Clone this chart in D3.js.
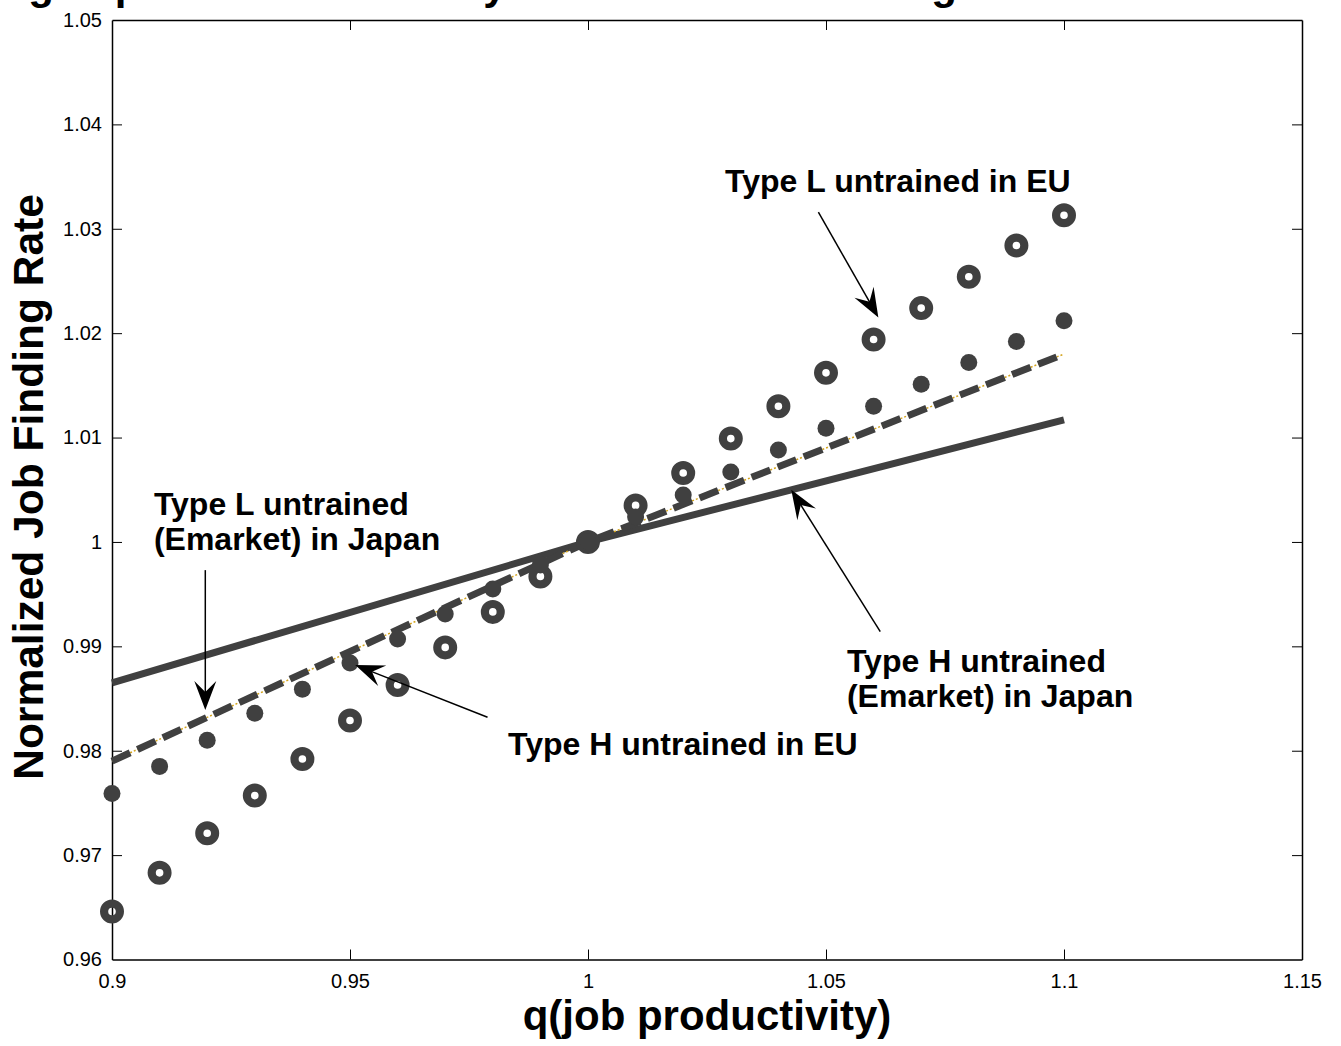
<!DOCTYPE html>
<html>
<head>
<meta charset="utf-8">
<script src="https://cdn.jsdelivr.net/npm/d3@7"></script>
<style>
  html, body { margin: 0; padding: 0; background: #fff; }
  svg { display: block; font-family: "Liberation Sans", Arial, Helvetica, sans-serif; }
</style>
</head>
<body>
<svg class="myChart" width="1341" height="1046"></svg>
<script>
// q grid (job productivity)
const qGrid = [0.90, 0.91, 0.92, 0.93, 0.94, 0.95, 0.96, 0.97, 0.98, 0.99, 1.00,
               1.01, 1.02, 1.03, 1.04, 1.05, 1.06, 1.07, 1.08, 1.09, 1.10];

// Type L untrained in EU (open rings)
const typeL_EU = [0.9646, 0.9683, 0.9721, 0.9757, 0.9792, 0.9829, 0.9863, 0.9899, 0.9933, 0.9967, 1.0000,
                  1.0035, 1.0066, 1.0099, 1.0130, 1.0162, 1.0194, 1.0224, 1.0254, 1.0284, 1.0313];

// Type H untrained in EU (filled dots)
const typeH_EU = [0.9759, 0.9785, 0.9810, 0.9836, 0.9859, 0.9884, 0.9907, 0.9931, 0.9955, 0.9978, 1.0000,
                  1.0024, 1.0045, 1.0067, 1.0088, 1.0109, 1.0130, 1.0151, 1.0172, 1.0192, 1.0212];

// Emarket in Japan (lines)
const qLine = [0.90, 1.00, 1.10];
const typeL_JP = [0.9790, 1.0000, 1.0180];
const typeH_JP = [0.9865, 1.0000, 1.0117];

const xTicks = [0.9, 0.95, 1, 1.05, 1.1, 1.15];
const yTicks = [0.96, 0.97, 0.98, 0.99, 1, 1.01, 1.02, 1.03, 1.04, 1.05];

// annotations: text lines anchored in data units, arrow from tail to head
const notes = [
  {lines: ["Type L untrained in EU"], tx: 1.0288, ty: 1.0335, tail: [1.0484, 1.0316], head: [1.0610, 1.0215]},
  {lines: ["Type L untrained", "(Emarket) in Japan"], tx: 0.9088, ty: 1.0026, tail: [0.9196, 0.9973], head: [0.9196, 0.9839]},
  {lines: ["Type H untrained in EU"], tx: 0.9832, ty: 0.9796, tail: [0.9789, 0.9832], head: [0.9511, 0.9882]},
  {lines: ["Type H untrained", "(Emarket) in Japan"], tx: 1.0544, ty: 0.9875, tail: [1.0614, 0.9914], head: [1.0427, 1.0050]}
];

const margin = {top: 20, right: 39, bottom: 86.5, left: 112};
const svg = d3.select('svg.myChart');
const width = 1341, height = 1046;
const innerWidth = width - margin.left - margin.right;
const innerHeight = height - margin.top - margin.bottom;
const ink = '#404040';

const xScale = d3.scaleLinear().domain([0.9, 1.15]).range([0, innerWidth]);
const yScale = d3.scaleLinear().domain([0.96, 1.05]).range([innerHeight, 0]);

// title (runs off the top of the figure, only descenders show)
svg.append('text')
  .attr('x', width / 2 + 10)
  .attr('y', -1)
  .attr('text-anchor', 'middle')
  .attr('font-size', 42)
  .attr('font-weight', 'bold')
  .text('Big Impact of Productivity Shock on Job Finding: Untrained Matching');

const g = svg.append('g')
  .attr('transform', `translate(${margin.left}, ${margin.top})`);

// axes with inward ticks, mirrored on top/right
const tickFmt = d => String(d);
const axBottom = g.append('g')
  .attr('transform', `translate(0,${innerHeight})`)
  .call(d3.axisBottom(xScale).tickValues(xTicks).tickFormat(tickFmt).tickSizeInner(-10).tickSizeOuter(0).tickPadding(14));
const axLeft = g.append('g')
  .call(d3.axisLeft(yScale).tickValues(yTicks).tickFormat(tickFmt).tickSizeInner(-10).tickSizeOuter(0).tickPadding(10));
const axTop = g.append('g')
  .call(d3.axisTop(xScale).tickValues(xTicks).tickFormat('').tickSizeInner(-10).tickSizeOuter(0));
const axRight = g.append('g')
  .attr('transform', `translate(${innerWidth},0)`)
  .call(d3.axisRight(yScale).tickValues(yTicks).tickFormat('').tickSizeInner(-10).tickSizeOuter(0));

[axBottom, axLeft, axTop, axRight].forEach(a => {
  a.selectAll('path.domain').attr('stroke', '#000').attr('stroke-width', 1.5);
  a.selectAll('.tick line').attr('stroke', '#000').attr('stroke-width', 1);
  a.selectAll('.tick text').attr('fill', '#000').attr('font-size', 20)
    .attr('font-family', '"Liberation Sans", Arial, sans-serif');
});

// hide end ticks that sit on the frame
[axBottom, axTop].forEach(a => a.selectAll('.tick line').filter(d => d === 0.9 || d === 1.15).remove());
[axLeft, axRight].forEach(a => a.selectAll('.tick line').filter(d => d === 0.96 || d === 1.05).remove());

// Japan lines
const line = d3.line().x(d => xScale(d[0])).y(d => yScale(d[1]));
const lPts = qLine.map((q, i) => [q, typeL_JP[i]]);
const hPts = qLine.map((q, i) => [q, typeH_JP[i]]);

g.append('path').datum(hPts)
  .attr('d', line).attr('fill', 'none')
  .attr('stroke', ink).attr('stroke-width', 7);

g.append('path').datum(lPts)
  .attr('d', line).attr('fill', 'none')
  .attr('stroke', '#d4a520').attr('stroke-width', 1.5).attr('stroke-dasharray', '2,2');
g.append('path').datum(lPts)
  .attr('d', line).attr('fill', 'none')
  .attr('stroke', ink).attr('stroke-width', 7).attr('stroke-dasharray', '20,8');

// EU markers
g.selectAll('circle.ringL').data(qGrid)
  .enter().append('circle')
  .attr('class', 'ringL')
  .attr('cx', d => xScale(d))
  .attr('cy', (d, i) => yScale(typeL_EU[i]))
  .attr('r', 7.9)
  .attr('fill', 'none')
  .attr('stroke', ink)
  .attr('stroke-width', 8.2);

g.selectAll('circle.dotH').data(qGrid)
  .enter().append('circle')
  .attr('class', 'dotH')
  .attr('cx', d => xScale(d))
  .attr('cy', (d, i) => yScale(typeH_EU[i]))
  .attr('r', 8.5)
  .attr('fill', ink);

// annotations
const arrowHead = (x1, y1, x2, y2) => {
  const L = 29, W = 11, notch = 11;
  const a = Math.atan2(y2 - y1, x2 - x1);
  const ux = Math.cos(a), uy = Math.sin(a), px = -uy, py = ux;
  const bx = x2 - ux * L, by = y2 - uy * L;
  const nx = x2 - ux * (L - notch), ny = y2 - uy * (L - notch);
  return `M${x2},${y2}L${bx + px * W},${by + py * W}L${nx},${ny}L${bx - px * W},${by - py * W}Z`;
};

notes.forEach(n => {
  const x1 = xScale(n.tail[0]), y1 = yScale(n.tail[1]);
  const x2 = xScale(n.head[0]), y2 = yScale(n.head[1]);
  const a = Math.atan2(y2 - y1, x2 - x1);
  g.append('line')
    .attr('x1', x1).attr('y1', y1)
    .attr('x2', x2 - Math.cos(a) * 15).attr('y2', y2 - Math.sin(a) * 15)
    .attr('stroke', '#000').attr('stroke-width', 1.5);
  g.append('path').attr('d', arrowHead(x1, y1, x2, y2)).attr('fill', '#000');

  const t = g.append('text')
    .attr('x', xScale(n.tx))
    .attr('y', yScale(n.ty))
    .attr('font-size', 32)
    .attr('font-weight', 'bold')
    .attr('fill', '#000');
  n.lines.forEach((s, i) => {
    t.append('tspan').attr('x', xScale(n.tx)).attr('dy', i === 0 ? 0 : 35).text(s);
  });
});

// axis labels
svg.append('text')
  .attr('x', 707)
  .attr('y', 1030)
  .attr('text-anchor', 'middle')
  .attr('font-size', 42)
  .attr('font-weight', 'bold')
  .text('q(job productivity)');

svg.append('text')
  .attr('transform', 'translate(43, 487) rotate(-90)')
  .attr('text-anchor', 'middle')
  .attr('font-size', 42.5)
  .attr('font-weight', 'bold')
  .text('Normalized Job Finding Rate');
</script>
</body>
</html>
